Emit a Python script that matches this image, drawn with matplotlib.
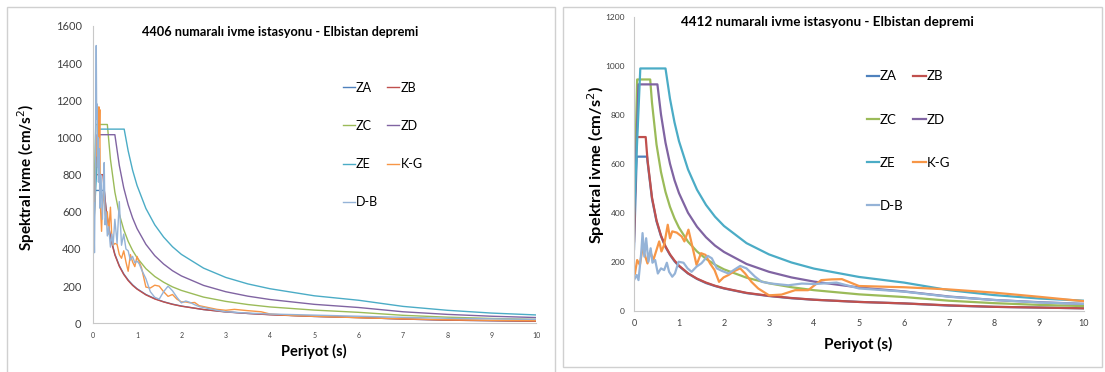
import matplotlib.pyplot as plt
from matplotlib.patches import Rectangle

plt.rcParams['font.family'] = ['Lato', 'DejaVu Sans']

# ===== Renkler (Excel paleti) =====
renk = {'ZA': '#4F81BD', 'ZB': '#C0504D', 'ZC': '#9BBB59', 'ZD': '#8064A2',
        'ZE': '#4BACC6', 'K-G': '#F79646', 'D-B': '#95B3D7'}
sira = ['ZA', 'ZB', 'ZC', 'ZD', 'ZE', 'K-G', 'D-B']

# ===== 4406 istasyonu (sol grafik) =====
T_ZA_L = [0, 0.05, 0.26, 0.3, 0.4, 0.5, 0.6, 0.7, 0.8, 0.9, 1.0, 1.2, 1.4, 1.6, 1.8, 2.0, 2.5, 3, 3.5, 4, 5, 6, 7, 8, 9, 10]
ZA_L   = [286, 715, 715, 620, 465, 372, 310, 266, 233, 207, 186, 155, 133, 116, 103, 93, 74, 62, 53, 47, 37, 31, 23, 17, 14, 11]
T_ZB_L = [0, 0.05, 0.23, 0.3, 0.4, 0.5, 0.6, 0.7, 0.8, 0.9, 1.0, 1.2, 1.4, 1.6, 1.8, 2.0, 2.5, 3, 3.5, 4, 5, 6, 7, 8, 9, 10]
ZB_L   = [320, 800, 800, 613, 460, 368, 307, 263, 230, 204, 184, 153, 131, 115, 102, 92, 74, 61, 53, 46, 37, 31, 23, 17, 14, 11]
T_ZC_L = [0, 0.07, 0.33, 0.4, 0.5, 0.6, 0.7, 0.8, 0.9, 1.0, 1.2, 1.4, 1.6, 1.8, 2.0, 2.5, 3, 3.5, 4, 5, 6, 7, 8, 9, 10]
ZC_L   = [428, 1070, 1070, 883, 706, 588, 504, 441, 392, 353, 294, 252, 221, 196, 177, 141, 118, 101, 88, 71, 59, 43, 33, 26, 21]
T_ZD_L = [0, 0.1, 0.5, 0.6, 0.7, 0.8, 0.9, 1.0, 1.2, 1.4, 1.6, 1.8, 2.0, 2.5, 3, 3.5, 4, 5, 6, 7, 8, 9, 10]
ZD_L   = [406, 1015, 1015, 850, 729, 638, 567, 510, 425, 364, 319, 283, 255, 204, 170, 146, 128, 102, 85, 62, 48, 38, 31]
T_ZE_L = [0, 0.14, 0.71, 0.8, 0.9, 1.0, 1.2, 1.4, 1.6, 1.8, 2.0, 2.5, 3, 3.5, 4, 5, 6, 7, 8, 9, 10]
ZE_L   = [418, 1045, 1045, 928, 824, 742, 618, 530, 464, 412, 371, 297, 247, 212, 186, 148, 124, 91, 70, 55, 45]
T_KG_L = [0, 0.02, 0.04, 0.06, 0.08, 0.1, 0.12, 0.14, 0.15, 0.16, 0.17, 0.18, 0.2, 0.22, 0.25, 0.28, 0.3, 0.33, 0.36,
          0.4, 0.43, 0.46, 0.5, 0.55, 0.6, 0.65, 0.7, 0.75, 0.8, 0.85, 0.9, 0.95, 1.0, 1.05, 1.1, 1.2, 1.3, 1.4, 1.5,
          1.6, 1.7, 1.8, 1.9, 2.0, 2.1, 2.2, 2.3, 2.4, 2.6, 2.8, 3.0, 3.2, 3.5, 3.8, 4.0, 4.5, 5, 6, 7, 8, 9, 10]
KG_L   = [330, 420, 600, 800, 1000, 900, 1080, 1165, 1000, 1150, 700, 600, 495, 640, 710, 590, 560, 600, 480,
          625, 470, 420, 430, 425, 370, 350, 390, 330, 280, 370, 330, 305, 360, 330, 300, 195, 190, 205, 200,
          170, 145, 155, 130, 115, 115, 110, 112, 95, 85, 75, 70, 75, 68, 62, 50, 42, 38, 30, 24, 19, 16, 14]
T_DB_L = [0, 0.02, 0.04, 0.06, 0.08, 0.09, 0.1, 0.11, 0.12, 0.13, 0.15, 0.16, 0.18, 0.2, 0.22, 0.24, 0.26, 0.28,
          0.3, 0.33, 0.36, 0.4, 0.43, 0.46, 0.5, 0.55, 0.6, 0.65, 0.7, 0.75, 0.8, 0.85, 0.9, 0.95, 1.0, 1.05, 1.1,
          1.2, 1.3, 1.4, 1.5, 1.6, 1.7, 1.8, 1.9, 2.0, 2.1, 2.2, 2.3, 2.4, 2.6, 2.8, 3.0, 3.5, 4.0, 4.5, 5, 6, 7, 8, 9, 10]
DB_L   = [290, 650, 380, 900, 1495, 1100, 1180, 840, 1000, 760, 940, 620, 800, 700, 560, 750, 865, 530,
          600, 470, 520, 410, 480, 420, 560, 430, 655, 420, 480, 400, 390, 340, 360, 325, 335, 320, 290,
          240, 170, 140, 130, 170, 200, 175, 140, 110, 120, 112, 100, 90, 80, 70, 62, 55, 50, 47, 44, 38, 32, 27, 24, 21]

# ===== 4412 istasyonu (sağ grafik) =====
T_ZA_R = [0, 0.06, 0.29, 0.3, 0.4, 0.5, 0.6, 0.7, 0.8, 0.9, 1.0, 1.2, 1.4, 1.6, 1.8, 2.0, 2.5, 3, 3.5, 4, 5, 6, 7, 8, 9, 10]
ZA_R   = [252, 630, 630, 610, 458, 366, 305, 261, 229, 203, 183, 153, 131, 114, 102, 92, 73, 61, 52, 46, 37, 31, 22, 17, 14, 11]
T_ZB_R = [0, 0.05, 0.26, 0.3, 0.4, 0.5, 0.6, 0.7, 0.8, 0.9, 1.0, 1.2, 1.4, 1.6, 1.8, 2.0, 2.5, 3, 3.5, 4, 5, 6, 7, 8, 9, 10]
ZB_R   = [284, 710, 710, 617, 463, 370, 308, 264, 231, 206, 185, 154, 132, 116, 103, 93, 74, 62, 53, 46, 37, 31, 23, 17, 14, 11]
T_ZC_R = [0, 0.07, 0.36, 0.4, 0.5, 0.6, 0.7, 0.8, 0.9, 1.0, 1.2, 1.4, 1.6, 1.8, 2.0, 2.5, 3, 3.5, 4, 5, 6, 7, 8, 9, 10]
ZC_R   = [378, 945, 945, 850, 680, 567, 486, 425, 378, 340, 283, 243, 213, 189, 170, 136, 113, 97, 85, 68, 57, 42, 32, 25, 20]
T_ZD_R = [0, 0.1, 0.52, 0.6, 0.7, 0.8, 0.9, 1.0, 1.2, 1.4, 1.6, 1.8, 2.0, 2.5, 3, 3.5, 4, 5, 6, 7, 8, 9, 10]
ZD_R   = [370, 925, 925, 802, 687, 601, 534, 481, 401, 344, 301, 267, 241, 192, 160, 137, 120, 96, 80, 59, 45, 36, 29]
T_ZE_R = [0, 0.14, 0.7, 0.8, 0.9, 1.0, 1.2, 1.4, 1.6, 1.8, 2.0, 2.5, 3, 3.5, 4, 5, 6, 7, 8, 9, 10]
ZE_R   = [396, 990, 990, 866, 770, 693, 578, 495, 433, 385, 347, 277, 231, 198, 173, 139, 116, 85, 65, 51, 42]
T_KG_R = [0, 0.02, 0.07, 0.13, 0.19, 0.24, 0.3, 0.36, 0.43, 0.5, 0.56, 0.61, 0.67, 0.75, 0.8, 0.85, 0.95, 1.06,
          1.12, 1.21, 1.28, 1.39, 1.49, 1.59, 1.69, 1.79, 1.89, 1.99, 2.1, 2.24, 2.36, 2.47, 2.61, 2.76, 3.0, 3.28,
          3.58, 3.87, 4.16, 4.39, 4.62, 5.0, 6.0, 7.0, 8.0, 9.0, 10.0]
KG_R   = [150, 151, 208, 188, 256, 229, 194, 243, 208, 249, 284, 243, 270, 352, 297, 325, 320, 304,
          284, 332, 277, 188, 236, 229, 194, 167, 119, 137, 147, 164, 174, 153, 119, 92, 64, 67,
          85, 85, 126, 129, 130, 102, 97, 88, 75, 58, 40]
T_DB_R = [0, 0.06, 0.1, 0.16, 0.19, 0.23, 0.27, 0.32, 0.37, 0.41, 0.47, 0.53, 0.6, 0.67, 0.73, 0.78, 0.85, 0.91,
          0.99, 1.1, 1.19, 1.28, 1.39, 1.5, 1.64, 1.73, 1.84, 1.95, 2.1, 2.24, 2.36, 2.5, 2.69, 2.84, 3.06, 3.43,
          3.73, 4.02, 4.5, 5.0, 6.0, 7.0, 8.0, 9.0, 10.0]
DB_R   = [126, 147, 126, 236, 318, 222, 297, 201, 256, 197, 208, 153, 174, 167, 197, 160, 140, 153,
          201, 197, 174, 160, 181, 195, 225, 215, 174, 164, 153, 170, 184, 174, 140, 119, 112, 105,
          112, 110, 116, 92, 79, 58, 45, 35, 29]

sol = {'ZA': (T_ZA_L, ZA_L), 'ZB': (T_ZB_L, ZB_L), 'ZC': (T_ZC_L, ZC_L), 'ZD': (T_ZD_L, ZD_L),
       'ZE': (T_ZE_L, ZE_L), 'K-G': (T_KG_L, KG_L), 'D-B': (T_DB_L, DB_L)}
sag = {'ZA': (T_ZA_R, ZA_R), 'ZB': (T_ZB_R, ZB_R), 'ZC': (T_ZC_R, ZC_R), 'ZD': (T_ZD_R, ZD_R),
       'ZE': (T_ZE_R, ZE_R), 'K-G': (T_KG_R, KG_R), 'D-B': (T_DB_R, DB_R)}

fig = plt.figure(figsize=(11.05, 3.72), dpi=100)
W, H = 1105, 372

# çerçeveler (Excel grafik alanı)
fig.add_artist(Rectangle((6.5/W, -0.02), (555-6.5)/W, 1.02 - 6.5/H, transform=fig.transFigure,
                         fill=False, ec='#D0D0D0', lw=1))
fig.add_artist(Rectangle((563/W, 1 - 367/H), (1102-563)/W, (367-7)/H, transform=fig.transFigure,
                         fill=False, ec='#D0D0D0', lw=1))


def panel(ax, veri, ymax, lw, xfs, yfs, xpad, ypad):
    cizgi = {}
    for ad in sira:
        T, Sa = veri[ad]
        cizgi[ad], = ax.plot(T, Sa, color=renk[ad], lw=lw, label=ad)
    ax.set_xlim(0, 10); ax.set_ylim(0, ymax)
    ax.set_xticks(range(0, 11)); ax.set_yticks(range(0, ymax + 1, 200))
    ax.tick_params(axis='x', length=0, labelsize=xfs, pad=xpad, colors='#404040')
    ax.tick_params(axis='y', length=0, labelsize=yfs, pad=ypad, colors='#404040')
    for s in ['top', 'right']:
        ax.spines[s].set_visible(False)
    for s in ['left', 'bottom']:
        ax.spines[s].set_color('#C8C8C8')
    return cizgi


axL = fig.add_axes([92.7/W, 1 - 323.3/H, (536-92.7)/W, (323.3-26)/H])
axR = fig.add_axes([634/W, 1 - 311/H, (1084-634)/W, (311-17)/H])
cL = panel(axL, sol, 1600, 1.0, 5, 8, 6, 8)
cR = panel(axR, sag, 1200, 1.6, 6.5, 6, 6, 6.5)

# lejant: satır satır ZA ZB / ZC ZD / ZE K-G / D-B
lej = ['ZA', 'ZC', 'ZE', 'D-B', 'ZB', 'ZD', 'K-G']
fig.legend([cL[k] for k in lej], lej, loc='upper left', bbox_to_anchor=(342.7/W, 1 - 81.5/H),
           ncol=2, frameon=False, fontsize=9, handlelength=0.95, handletextpad=0.1,
           columnspacing=0.75, labelspacing=2.1, borderpad=0, borderaxespad=0)
fig.legend([cR[k] for k in lej], lej, loc='upper left', bbox_to_anchor=(866.7/W, 1 - 70.5/H),
           ncol=2, frameon=False, fontsize=9.5, handlelength=0.95, handletextpad=0.05,
           columnspacing=0.75, labelspacing=2.35, borderpad=0, borderaxespad=0)

# başlıklar ve eksen adları
fig.text(280.5/W, 1 - 32.5/H, '4406 numaralı ivme istasyonu - Elbistan depremi',
         ha='center', va='center', fontsize=9.2, fontweight='bold')
fig.text(827/W, 1 - 22/H, '4412 numaralı ivme istasyonu - Elbistan depremi',
         ha='center', va='center', fontsize=9.7, fontweight='bold')
fig.text(26/W, 1 - 177/H, 'Spektral ivme (cm/s$^2$)', rotation=90,
         ha='center', va='center', fontsize=11, fontweight='bold')
fig.text(596/W, 1 - 165/H, 'Spektral ivme (cm/s$^2$)', rotation=90,
         ha='center', va='center', fontsize=11.8, fontweight='bold')
fig.text(314/W, 1 - 351.5/H, 'Periyot (s)', ha='center', va='center', fontsize=10.5, fontweight='bold')
fig.text(858/W, 1 - 344.5/H, 'Periyot (s)', ha='center', va='center', fontsize=11, fontweight='bold')

fig.savefig('out.png', dpi=100)
